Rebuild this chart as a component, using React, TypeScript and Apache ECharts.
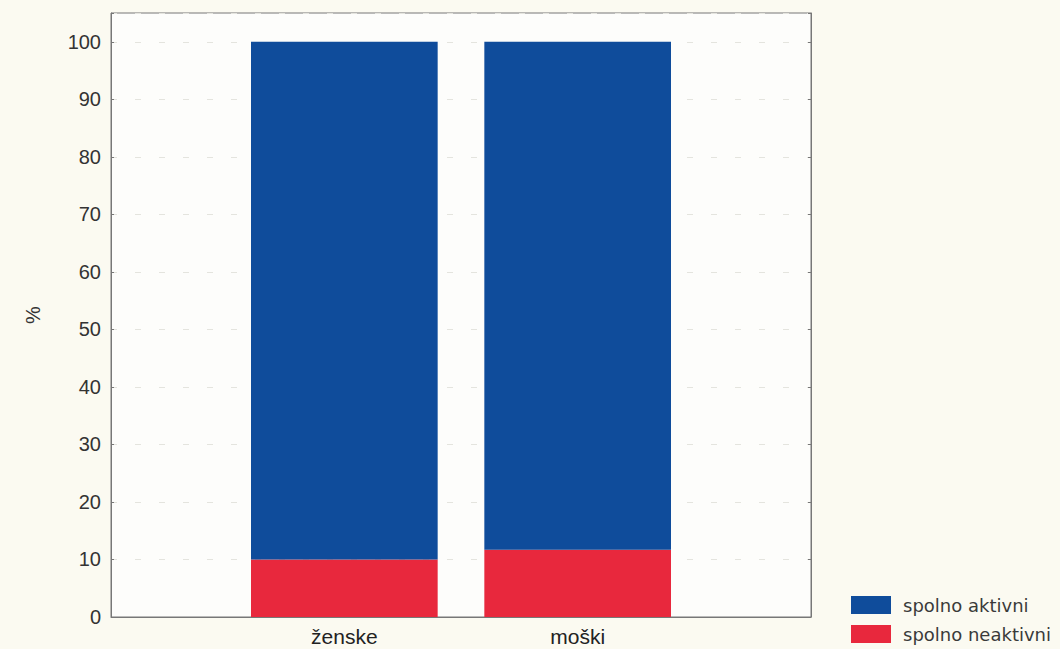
import React, { useEffect, useRef } from "react";
import * as echarts from "echarts";

const categories = ["", "ženske", "moški", ""];
const neaktivni = [null, 10.0, 11.7, null];
const aktivni = [null, 90.0, 88.3, null];
const yTicks = { min: 0, max: 105, interval: 10 };

export default function App() {
  const ref = useRef<HTMLDivElement>(null);
  useEffect(() => {
    if (!ref.current) return;
    const chart = echarts.init(ref.current, null, { renderer: "svg" });
    const axisFont = { fontFamily: "'Liberation Sans', Arial, sans-serif", fontSize: 20, color: "#333" };
    chart.setOption({
      animation: false,
      backgroundColor: "#fbfaf1",
      grid: {
        left: 111,
        right: 249,
        top: 13,
        bottom: 32,
        show: true,
        backgroundColor: "#fdfdfb",
        borderColor: "#777",
        borderWidth: 1,
      },
      legend: {
        orient: "vertical",
        left: 846,
        top: 591,
        itemWidth: 40,
        itemHeight: 18,
        itemGap: 11,
        icon: "rect",
        data: ["spolno aktivni", "spolno neaktivni"],
        textStyle: { fontFamily: "'DejaVu Sans', sans-serif", fontSize: 18, color: "#3a3a3a", padding: [0, 0, 0, 7] },
      },
      xAxis: {
        type: "category",
        data: categories,
        boundaryGap: false,
        axisLine: { lineStyle: { color: "#777" } },
        axisTick: { show: false },
        axisLabel: { ...axisFont, fontSize: 21, color: "#222", margin: 9 },
        splitLine: { show: false },
      },
      yAxis: [
        {
          type: "value",
          min: yTicks.min,
          max: yTicks.max,
          interval: yTicks.interval,
          name: "%",
          nameLocation: "middle",
          nameGap: 68,
          nameRotate: 90,
          nameTextStyle: { ...axisFont },
          axisLine: { show: true, lineStyle: { color: "#777" } },
          axisTick: { show: true, inside: true, length: 3, lineStyle: { color: "#777" } },
          axisLabel: {
            ...axisFont,
            margin: 10,
            formatter: (v: number) => (v > 100 ? "" : String(v)),
          },
          splitLine: { show: true, lineStyle: { color: "#e4e4de", type: [6, 18], width: 1 } },
        },
        {
          type: "value",
          position: "right",
          min: yTicks.min,
          max: yTicks.max,
          interval: yTicks.interval,
          axisLine: { show: true, lineStyle: { color: "#777" } },
          axisTick: { show: true, inside: true, length: 3, lineStyle: { color: "#777" } },
          axisLabel: { show: false },
          splitLine: { show: false },
        },
      ],
      series: [
        {
          name: "spolno neaktivni",
          type: "bar",
          stack: "total",
          barWidth: "80%",
          data: neaktivni,
          itemStyle: { color: "#e8283d" },
        },
        {
          name: "spolno aktivni",
          type: "bar",
          stack: "total",
          barWidth: "80%",
          data: aktivni,
          itemStyle: { color: "#0f4c9b" },
        },
      ],
    });
    return () => chart.dispose();
  }, []);
  return <div ref={ref} style={{ width: 1060, height: 649, position: "absolute", left: 0, top: 0 }} />;
}
